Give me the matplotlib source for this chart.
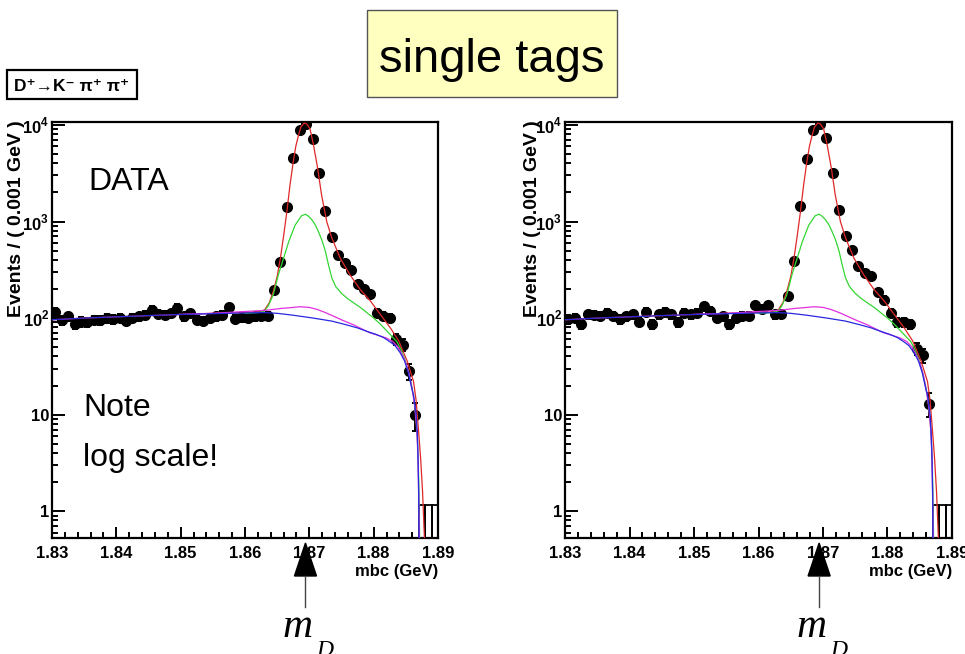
import numpy as np
import matplotlib
matplotlib.use('Agg')
import matplotlib.pyplot as plt
from matplotlib.ticker import LogLocator, MultipleLocator, NullFormatter
from matplotlib.patches import Rectangle, Polygon
from matplotlib.lines import Line2D
from matplotlib.transforms import blended_transform_factory

plt.rcParams['font.family'] = ['Liberation Sans', 'DejaVu Sans']
plt.rcParams['mathtext.fontset'] = 'custom'
plt.rcParams['mathtext.rm'] = 'Liberation Sans:bold'
plt.rcParams['mathtext.bf'] = 'Liberation Sans:bold'

# mbc bins: 1 MeV wide, 1.830 - 1.887 filled, last three bins empty
mbc = np.round(1.8305 + 0.001 * np.arange(57), 4)
empty_bins = [1.8875, 1.8885, 1.8895]
empty_err = 1.15

counts_left = [116, 95, 104, 87, 92, 90, 96, 95, 99, 97, 101, 94, 100, 104, 108, 122, 110,
               107, 112, 128, 104, 112, 96, 94, 101, 104, 108, 130, 98, 102, 100, 104, 105, 106,
               195, 378, 1420, 4540, 8900, 10200, 7180, 3200, 1290, 685, 454, 372, 318, 226,
               200, 176, 113, 106, 100, 60, 53, 28, 10]
counts_right = [97, 101, 86, 109, 107, 105, 113, 105, 97, 104, 109, 92, 116, 87, 109, 116, 109,
                90, 113, 109, 113, 133, 118, 101, 104, 87, 101, 105, 105, 136, 123, 136, 109, 110,
                168, 387, 1440, 4460, 8900, 10200, 7250, 3200, 1310, 700, 510, 343, 293, 271,
                186, 155, 113, 90, 90, 86, 48, 41, 13]

# fit curves
tot_x = [1.830, 1.835, 1.840, 1.845, 1.850, 1.855, 1.860, 1.8625, 1.8631, 1.8638, 1.8644,
         1.8650, 1.8655, 1.8660, 1.8665, 1.8670, 1.8675, 1.8679, 1.8683, 1.8687, 1.8692,
         1.8696, 1.8701, 1.8706, 1.8713, 1.8719, 1.8727, 1.8735, 1.8748, 1.8763, 1.8779,
         1.8795, 1.8810, 1.8826, 1.8839, 1.8852, 1.8862, 1.8866, 1.8870, 1.8873, 1.8876, 1.8879]
tot_y = [96, 100, 103, 106, 109, 112, 114, 116, 123, 145, 190, 269, 417, 708, 1259, 2399,
         4169, 6026, 7762, 9550, 10471, 10233, 9120, 6457, 3548, 1884, 1000, 676, 417, 282,
         198, 150, 110, 79, 58, 36, 22, 14, 6.5, 3.5, 1.6, 0.5]

sig_x = [1.8600, 1.8620, 1.8630, 1.8636, 1.8644, 1.8652, 1.8660, 1.8668, 1.8678, 1.8688,
         1.8694, 1.8699, 1.8704, 1.8709, 1.8714, 1.8720, 1.8725, 1.8730, 1.8735, 1.8741,
         1.8750, 1.8760, 1.8770, 1.8780, 1.8790, 1.8800, 1.8810, 1.8820, 1.8828, 1.8836,
         1.8842, 1.8848, 1.8854, 1.8859, 1.8863, 1.8866, 1.8868, 1.8870, 1.88715]
sig_y = [112, 114, 118, 133, 175, 283, 418, 620, 920, 1150, 1190, 1130, 1040, 930, 790,
         630, 490, 350, 260, 212, 180, 158, 142, 128, 113, 100, 87, 74, 65, 57, 48, 38, 28,
         20, 14, 9, 5.5, 2.2, 0.5]

peak_bkg_x = [1.850, 1.855, 1.860, 1.8630, 1.8644, 1.8657, 1.8670, 1.8686, 1.8700, 1.8712,
              1.8725, 1.8737, 1.8753, 1.8769, 1.8782, 1.8795, 1.8808, 1.8820, 1.8830, 1.8838,
              1.8845, 1.8851, 1.8856, 1.8860, 1.8864, 1.8867, 1.8869, 1.8871]
peak_bkg_y = [109, 112, 117, 120, 123, 126, 128, 131, 129, 123, 114, 105, 94, 85, 77, 70,
              66, 62, 57, 50, 41, 33, 25, 18, 12, 7, 3.5, 0.5]

argus_x = [1.830, 1.835, 1.840, 1.845, 1.850, 1.855, 1.860, 1.8628, 1.8650, 1.8675, 1.8706,
           1.8735, 1.8758, 1.8775, 1.8789, 1.8803, 1.8815, 1.8825, 1.8833, 1.8841, 1.8848,
           1.8854, 1.8859, 1.8862, 1.8866, 1.8868, 1.8869, 1.8870, 1.88705]
argus_y = [96, 100, 103, 106, 109, 111, 113, 114, 112, 107, 100, 93, 85, 79, 73, 68, 63,
           57, 52, 44, 36, 27, 19, 16, 10, 6, 3.5, 1.5, 0.5]

m_D = 1.8694

W, H = 965, 654
fig = plt.figure(figsize=(W / 100, H / 100), dpi=100)


def fx(px):
    return px / W


def fy(py):
    return 1 - py / H


def panel(x0, x1, counts, ylab_x):
    ax = fig.add_axes([fx(x0), fy(538), fx(x1) - fx(x0), fy(122) - fy(538)])
    c = np.array(counts, dtype=float)
    ax.errorbar(mbc, c, yerr=np.sqrt(c), fmt='o', ms=7, color='black', ecolor='black',
                elinewidth=1.4, capsize=2.5, capthick=1.4, zorder=3)
    ax.bar(empty_bins, empty_err - 0.3, width=0.001, bottom=0.3, fill=False,
           edgecolor='black', linewidth=1.3, zorder=3)
    ax.plot(tot_x, tot_y, color='#e02828', lw=0.9, zorder=4)
    ax.plot(sig_x, sig_y, color='#33d633', lw=0.9, zorder=4)
    ax.plot(peak_bkg_x, peak_bkg_y, color='#e030e0', lw=0.9, zorder=4)
    ax.plot(argus_x, argus_y, color='#2828e0', lw=0.9, zorder=5)

    ax.set_xlim(1.83, 1.89)
    ax.set_yscale('log')
    ax.set_ylim(0.527, 10740)
    ax.set_xticks([1.83, 1.84, 1.85, 1.86, 1.87, 1.88, 1.89])
    ax.set_xticklabels(['1.83', '1.84', '1.85', '1.86', '1.87', '1.88', '1.89'],
                       fontweight='bold')
    ax.xaxis.set_minor_locator(MultipleLocator(0.002))
    ax.set_yticks([1, 10, 100, 1000, 10000])
    ax.set_yticklabels(['1', '10', r'$10^{2}$', r'$10^{3}$', r'$10^{4}$'], fontweight='bold')
    ax.yaxis.set_minor_locator(LogLocator(base=10, subs=range(2, 10)))
    ax.yaxis.set_minor_formatter(NullFormatter())
    ax.tick_params(which='both', direction='in', top=False, right=False, width=1.4)
    ax.tick_params(axis='x', which='major', length=8, pad=6, labelsize=12)
    ax.tick_params(axis='x', which='minor', length=4.5)
    ax.tick_params(axis='y', which='major', length=9, pad=2, labelsize=12)
    ax.tick_params(axis='y', which='minor', length=4.5)
    for s in ax.spines.values():
        s.set_linewidth(1.6)

    ax.text(ylab_x, 1.005, 'Events / ( 0.001 GeV )', rotation=90, ha='center', va='top',
            transform=ax.transAxes, fontsize=14, fontweight='bold')
    ax.text(1.0, -0.062, 'mbc (GeV)', ha='right', va='top', transform=ax.transAxes,
            fontsize=12, fontweight='bold')

    # arrow marking the nominal D mass below the axis
    tr = blended_transform_factory(ax.transData, ax.transAxes)
    hw = 11 / 6430 * 0.01 * 100
    ax.add_artist(Polygon([(m_D, -0.012), (m_D - hw, -0.0913), (m_D + hw, -0.0913)],
                          closed=True, facecolor='black', edgecolor='black',
                          transform=tr, clip_on=False, zorder=6))
    ax.add_artist(Line2D([m_D, m_D], [-0.0913, -0.166], color='#444444', lw=1,
                         transform=tr, clip_on=False, zorder=6))
    ax.text(m_D - 0.00358, -0.238, 'm', transform=tr, ha='left', va='baseline',
            fontsize=30, family='Liberation Serif', style='italic')
    ax.text(m_D + 0.00171, -0.284, 'D', transform=tr, ha='left', va='baseline',
            fontsize=17, family='Liberation Serif', style='italic')
    return ax


ax1 = panel(52, 438, counts_left, -0.0907)
ax2 = panel(565, 952, counts_right, -0.083)

fig.text(fx(88), fy(190), 'DATA', fontsize=23, va='baseline')
fig.text(fx(83), fy(416), 'Note', fontsize=23, va='baseline')
fig.text(fx(83), fy(466), 'log scale!', fontsize=23, va='baseline')

# title box and decay-mode label
fig.add_artist(Rectangle((fx(367), fy(97)), fx(617) - fx(367), fy(10) - fy(97),
                         transform=fig.transFigure, facecolor='#ffffc0',
                         edgecolor='#555555', lw=1))
fig.text(fx(492), fy(72), 'single tags', fontsize=34, ha='center', va='baseline')
fig.add_artist(Rectangle((fx(7), fy(99)), fx(137) - fx(7), fy(70) - fy(99),
                         transform=fig.transFigure, facecolor='white',
                         edgecolor='black', lw=1.6))
fig.text(fx(72), fy(91), 'D⁺→K⁻ π⁺ π⁺', fontsize=12.5, fontweight='bold',
         ha='center', va='baseline')

fig.savefig('out.png', dpi=100)
